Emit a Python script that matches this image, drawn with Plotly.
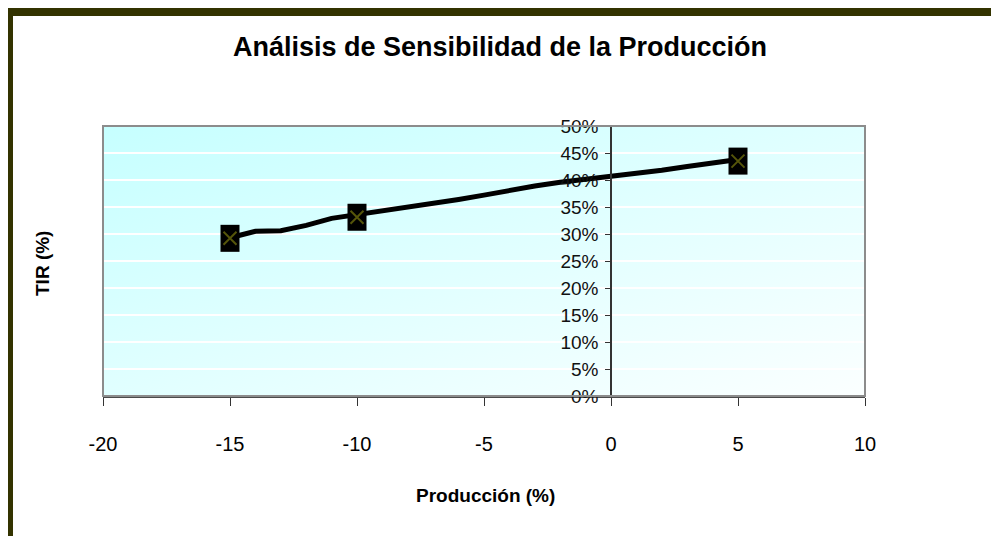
import base64
import plotly.graph_objects as go

# ---- data ----
line_x = [-15, -14, -13, -12, -11, -10, -9, -8, -7, -6, -5, -4, -3, -2, -1, 0, 1, 2, 3, 4, 5]
line_y = [0.293, 0.305, 0.306, 0.316, 0.329, 0.336, 0.342, 0.348, 0.355, 0.364, 0.372,
          0.381, 0.389, 0.396, 0.401, 0.406, 0.411, 0.418, 0.425, 0.432, 0.438]
mark_x = [-15, -10, 5]
mark_y = [0.292, 0.331, 0.435]
x_ticks = [-20, -15, -10, -5, 0, 5, 10]
y_ticks = [0, 0.05, 0.10, 0.15, 0.20, 0.25, 0.30, 0.35, 0.40, 0.45, 0.50]
y_tick_labels = ["0%", "5%", "10%", "15%", "20%", "25%", "30%", "35%", "40%", "45%", "50%"]

TITLE = "Análisis de Sensibilidad de la Producción"
X_TITLE = "Producción (%)"
Y_TITLE = "TIR (%)"

# ---- layout geometry (page pixels; the figure sits at the page's 8px body margin) ----
OFF = 8
PAGE_W, PAGE_H = 999, 544
W, H = PAGE_W - OFF, PAGE_H - 2 * OFF
PL, PR, PT, PB = 103, 865, 126, 396
XR = [-20, 10]
YR = [0, 0.5]


def xp(px):
    return (px - PL) / (PR - PL)


def yp(py):
    return (PB - py) / (PB - PT)


FONT = "Liberation Sans, Arial, sans-serif"
OLIVE = "#333300"

# gradient background for the plot area
svg = (
    '<svg xmlns="http://www.w3.org/2000/svg" width="100" height="100" '
    'viewBox="0 0 100 100" preserveAspectRatio="none">'
    '<defs><linearGradient id="g" x1="0" y1="0" x2="1" y2="1">'
    '<stop offset="0" stop-color="#c6ffff"/>'
    '<stop offset="1" stop-color="#fbffff"/>'
    '</linearGradient></defs>'
    '<rect width="100" height="100" fill="url(#g)"/></svg>'
)
svg_uri = "data:image/svg+xml;base64," + base64.b64encode(svg.encode()).decode()

fig = go.Figure()

fig.add_trace(go.Scatter(
    x=line_x, y=line_y, mode="lines",
    line=dict(color="black", width=5),
    hoverinfo="skip", showlegend=False,
))

# rectangle markers (19 x 27 px) built from error bars, with an olive X inside
half_h = 13.5 * (YR[1] - YR[0]) / (PB - PT)
fig.add_trace(go.Scatter(
    x=mark_x, y=mark_y, mode="markers",
    marker=dict(symbol="x-thin", size=13, color="#55550a",
                line=dict(color="#55550a", width=2)),
    error_y=dict(type="data", array=[half_h] * len(mark_x), symmetric=True,
                 thickness=19, width=0, color="black"),
    showlegend=False,
))

shapes = [
    # plot area frame
    dict(type="rect", xref="paper", yref="paper", x0=0, x1=1, y0=0, y1=1,
         line=dict(color="#8c8c8c", width=2), fillcolor="rgba(0,0,0,0)", layer="above"),
    # chart outer frame: thick olive left/top
    dict(type="rect", xref="paper", yref="paper", x0=xp(8), x1=xp(13), y0=yp(PAGE_H), y1=yp(7),
         line=dict(width=0), fillcolor=OLIVE, layer="above"),
    dict(type="rect", xref="paper", yref="paper", x0=xp(8), x1=xp(PAGE_W), y0=yp(16), y1=yp(7),
         line=dict(width=0), fillcolor=OLIVE, layer="above"),
]

y_axis_pos = (0 - XR[0]) / (XR[1] - XR[0])

fig.update_layout(
    width=W, height=H,
    margin=dict(l=PL - OFF, r=PAGE_W - PR, t=PT - OFF, b=(OFF + H) - PB, pad=0),
    paper_bgcolor="white",
    plot_bgcolor="rgba(0,0,0,0)",
    font=dict(family=FONT, color="black"),
    title=dict(text="<b>" + TITLE + "</b>", font=dict(size=27, family=FONT, color="black"),
               x=xp(500), xref="paper", xanchor="center",
               y=1 - (47 - OFF) / H, yref="container", yanchor="middle"),
    xaxis=dict(
        range=XR, tickvals=x_ticks, ticktext=[str(v) for v in x_ticks],
        showgrid=False, zeroline=False,
        showline=True, linecolor="#4a4a4a", linewidth=2,
        ticks="outside", ticklen=8, tickwidth=1, tickcolor="#333333",
        tickfont=dict(size=20, family=FONT, color="black"),
        ticklabelstandoff=21,
    ),
    yaxis=dict(
        range=YR, tickvals=y_ticks, ticktext=y_tick_labels,
        anchor="free", position=y_axis_pos,
        showgrid=True, gridcolor="white", gridwidth=1.5,
        zeroline=False,
        showline=True, linecolor="#333333", linewidth=1.5,
        ticks="outside", ticklen=5, tickwidth=1, tickcolor="#333333",
        tickfont=dict(size=19, family=FONT, color="#111111"),
        ticklabelstandoff=3,
    ),
    images=[dict(source=svg_uri, xref="paper", yref="paper", x=0, y=1,
                 sizex=1, sizey=1, xanchor="left", yanchor="top",
                 sizing="stretch", layer="below")],
    shapes=shapes,
    annotations=[
        dict(text="<b>" + X_TITLE + "</b>", xref="paper", yref="paper",
             x=xp(485), y=yp(495), showarrow=False,
             font=dict(size=19, family=FONT, color="black"),
             xanchor="center", yanchor="middle"),
        dict(text="<b>" + Y_TITLE + "</b>", xref="paper", yref="paper",
             x=xp(42), y=yp(263), showarrow=False, textangle=-90,
             font=dict(size=19, family=FONT, color="black"),
             xanchor="center", yanchor="middle"),
    ],
    showlegend=False,
)

fig.write_html("out.html")
